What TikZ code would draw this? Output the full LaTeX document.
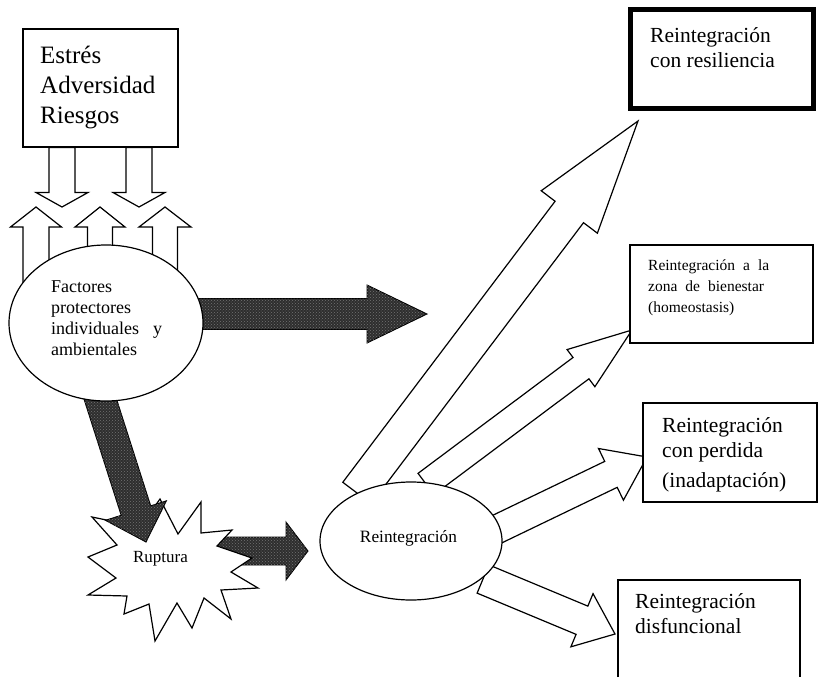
\documentclass[tikz,border=0pt]{standalone}
\usepackage{fontspec}
\setmainfont{Liberation Serif}
\usetikzlibrary{calc,patterns,shapes.geometric}
\pgfdeclarelayer{back}
\pgfsetlayers{back,main}
% #1 style, #2 start, #3 end, #4 half shaft, #5 half head, #6 head length
\newcommand\fatarrow[6][]{%
  \coordinate (fahead) at ($(#3)!#6!(#2)$);
  \draw[#1] ($(#2)!#4!90:(#3)$) -- ($(fahead)!#4!-90:(#2)$) -- ($(fahead)!#5!-90:(#2)$)
    -- (#3) -- ($(fahead)!#5!90:(#2)$) -- ($(fahead)!#4!90:(#2)$) -- ($(#2)!#4!-90:(#3)$) -- cycle;
}
\newcommand\wsp{\hspace{8pt}}
\begin{document}
\begin{tikzpicture}[x=1pt,y=-1pt,
  hollow/.style={draw=black,fill=white,line width=1.2pt,line join=miter},
  dark/.style={draw=black,fill=black!82,line width=0.9pt,line join=miter,
    postaction={pattern=crosshatch dots,pattern color=black!55}},
  box/.style={draw=black,line width=1.2pt,fill=white,inner sep=0pt},
  oval/.style={draw=black,ellipse,line width=1.2pt,fill=white,inner sep=0pt},
  txt/.style={inner sep=0pt,align=left,anchor=base west},
]
\useasboundingbox (0,0) rectangle (818,677);

% ---------- nodes (text anchors are at the baseline of the last line) ----------
\node[box,minimum width=155pt,minimum height=118pt] (stress) at (100.5,88) {};
\node[txt,font=\fontsize{25}{30}\selectfont] (stresstxt) at (40,123) {Estrés\\Adversidad\\Riesgos};

\node[oval,minimum width=194pt,minimum height=156pt] (fac) at (106,323) {};
\node[txt,font=\fontsize{18}{21}\selectfont] (factxt) at (51,355)
  {Factores\\protectores\\individuales\hspace{14pt}y\\ambientales};

\node[oval,minimum width=182pt,minimum height=118pt] (rei) at (411,541) {};
\node[inner sep=0pt,anchor=base,font=\fontsize{17.3}{20}\selectfont] (reitxt) at (408.5,542) {Reintegración};

\node[inner sep=0pt,anchor=base,font=\fontsize{17}{20}\selectfont] (ruptxt) at (160.5,562) {Ruptura};

\node[box,line width=5pt,minimum width=183pt,minimum height=99pt] (res) at (722,59) {};
\node[txt,font=\fontsize{21.5}{25}\selectfont] (restxt) at (650,67) {Reintegración\\con resiliencia};

\node[box,minimum width=183pt,minimum height=98pt] (bien) at (721.5,294) {};
\node[txt,font=\fontsize{15.5}{21}\selectfont] (bientxt) at (648,312)
  {Reintegración\wsp a\wsp la\\zona\wsp de\wsp bienestar\\(homeostasis)};

\node[box,minimum width=174pt,minimum height=99pt] (perd) at (730,452.5) {};
\node[txt,font=\fontsize{21.5}{25}\selectfont] (perdtxt) at (662,487)
  {Reintegración\\con perdida\\[5pt](inadaptación)};

\coordinate (disbl) at (618,677);
\coordinate (distl) at (618,580);
\coordinate (distr) at (800,580);
\coordinate (disbr) at (800,677);
\draw[line width=1.2pt] (disbl) -- (distl) -- (distr) -- (disbr);
\node[txt,font=\fontsize{21.5}{25}\selectfont] (distxt) at (635,633)
  {Reintegración\\disfuncional};

% ---------- connector end points ----------
\coordinate (d1e) at (62,207);  \coordinate (d1s) at (stress.south -| d1e);
\coordinate (d2e) at (139,207); \coordinate (d2s) at (stress.south -| d2e);
\coordinate (u1s) at (36,300);  \coordinate (u1e) at (36,207);
\coordinate (u2s) at (100,280); \coordinate (u2e) at (100,207);
\coordinate (u3s) at (165,290); \coordinate (u3e) at (165,207);
\coordinate (frs) at (190,314); \coordinate (fre) at (427,314);
\coordinate (fds) at (98,392);  \coordinate (fde) at (146,542);
\coordinate (rrs) at (210,551); \coordinate (rre) at (308,551);
\coordinate (a1s) at (357,493); \coordinate (a1e) at (638,121);
\coordinate (a2s) at (426,484); \coordinate (a2e) at (632,330);
\coordinate (a3s) at (485,535); \coordinate (a3e) at (647,457);
\coordinate (a4s) at (483,579); \coordinate (a4e) at (615,634);

\begin{pgfonlayer}{back}
  % Ruptura -> Reintegracion
  \fatarrow[dark]{rrs}{rre}{14pt}{29pt}{22pt}
  % star
  \draw[line width=1.2pt,fill=white,line join=miter]
    (201,502) -- (201,533) -- (232,530) -- (217,546) -- (252,558) -- (231,572)
    -- (258,588) -- (221,590) -- (231,619) -- (204,598) -- (192,628) -- (177,603)
    -- (155,641) -- (149,604) -- (124,614) -- (127,596) -- (88,595) -- (116,578)
    -- (88,557) -- (117,545) -- (92,517) -- (140,527) -- (160,499) -- (178,534) -- cycle;
  % Factores -> Ruptura
  \fatarrow[dark]{fds}{fde}{15.5pt}{32pt}{33pt}
  % Factores -> right
  \fatarrow[dark]{frs}{fre}{15.5pt}{29pt}{60pt}
  % stress down arrows
  \fatarrow[hollow]{d1s}{d1e}{13pt}{26pt}{14.5pt}
  \fatarrow[hollow]{d2s}{d2e}{13pt}{26pt}{14.5pt}
  % protective up arrows
  \fatarrow[hollow]{u1s}{u1e}{13pt}{25.5pt}{20pt}
  \fatarrow[hollow]{u2s}{u2e}{12.5pt}{25pt}{20pt}
  \fatarrow[hollow]{u3s}{u3e}{12.5pt}{26pt}{20pt}
  % reintegration outcomes
  \fatarrow[hollow]{a1s}{a1e}{17.8pt}{35.2pt}{114pt}
  \fatarrow[hollow]{a2s}{a2e}{13.3pt}{23.2pt}{63.7pt}
  \fatarrow[hollow]{a3s}{a3e}{14.4pt}{28.7pt}{40pt}
  \fatarrow[hollow]{a4s}{a4e}{15.3pt}{28.8pt}{35.8pt}
\end{pgfonlayer}
\end{tikzpicture}
\end{document}
